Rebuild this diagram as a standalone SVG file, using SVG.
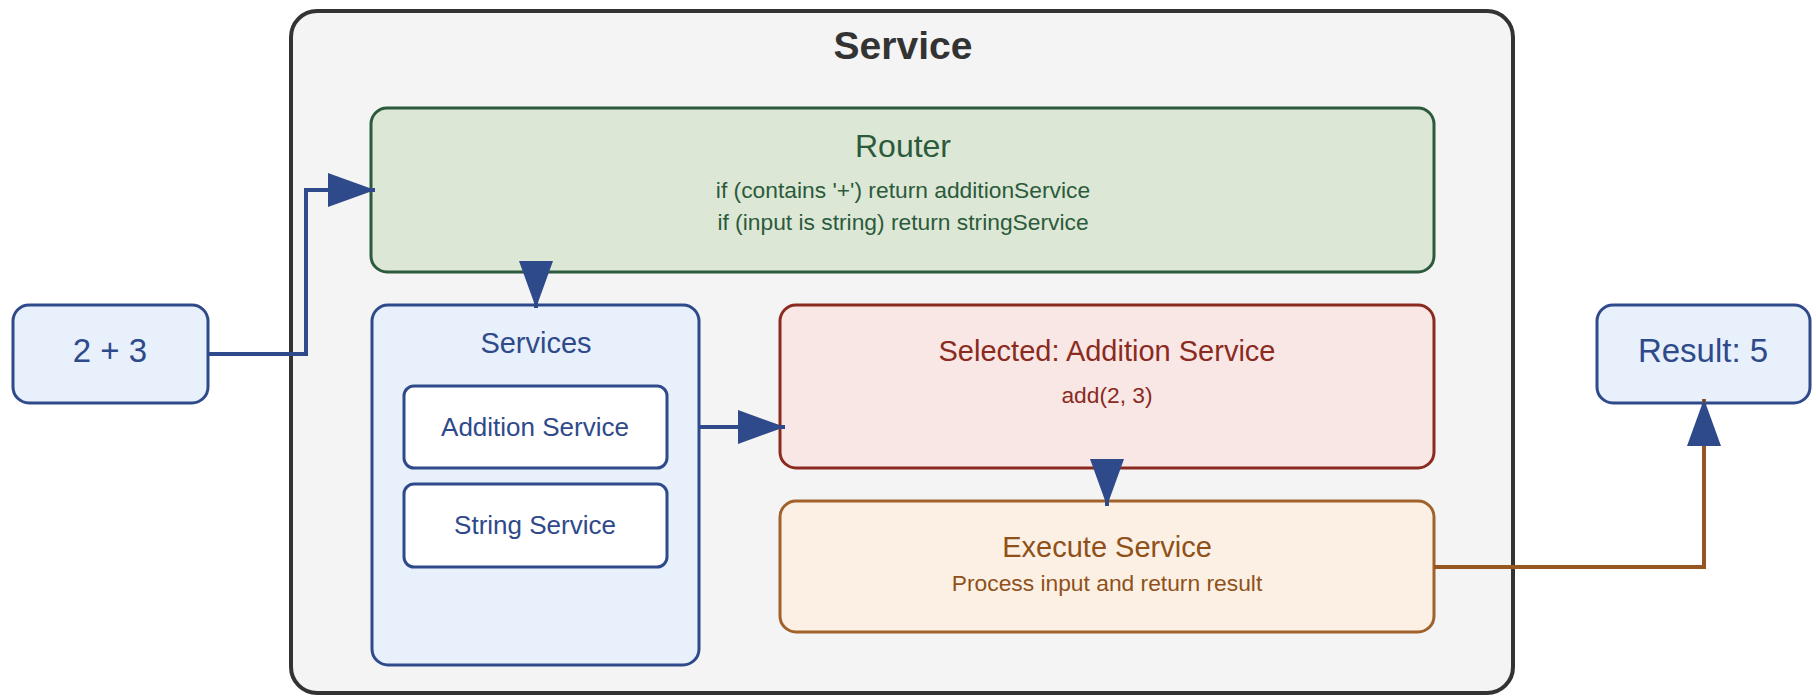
<svg xmlns="http://www.w3.org/2000/svg" width="1816" height="696" viewBox="0 0 1816 696">
  <style>
    text { font-family: "Liberation Sans", Arial, Helvetica, sans-serif; text-anchor: middle; }
    .blue-box { fill: #e7f0fb; stroke: #2f4a8a; stroke-width: 3; }
    .white-box { fill: #ffffff; stroke: #2f4a8a; stroke-width: 3; }
    .blue-text { fill: #2f4a8a; }
    .green-box { fill: #dce8d5; stroke: #2c5a3c; stroke-width: 3; }
    .green-text { fill: #2c5a3c; }
    .red-box { fill: #f9e7e5; stroke: #8b2a1e; stroke-width: 3; }
    .red-text { fill: #8b2a1e; }
    .orange-box { fill: #fcf0e5; stroke: #a0622a; stroke-width: 3; }
    .orange-text { fill: #8f5119; }
    .title { font-size: 29px; }
    .sub { font-size: 22.8px; }
    .io { font-size: 33px; }
    .conn { fill: none; stroke-width: 4; }
    .conn-blue { stroke: #2f4a8a; }
    .conn-brown { stroke: #95561f; }
  </style>
  <defs>
    <marker id="arrow" markerUnits="userSpaceOnUse" markerWidth="48" markerHeight="34" refX="47" refY="17" orient="auto">
      <path d="M0,0 L47,17 L0,34 Z" fill="#2f4a8a"/>
    </marker>
  </defs>

  <rect width="1816" height="696" fill="#ffffff"/>

  <!-- outer service container -->
  <g id="service">
    <rect x="291" y="11" width="1222" height="682" rx="26" fill="#f4f4f4" stroke="#333333" stroke-width="4"/>
    <text x="903" y="59" font-size="39" font-weight="bold" fill="#333333">Service</text>
  </g>

  <g id="router">
    <rect class="green-box" x="371" y="108" width="1063" height="164" rx="16"/>
    <text class="green-text" x="903" y="157" font-size="32">Router</text>
    <text class="green-text sub" x="903" y="198">if (contains '+') return additionService</text>
    <text class="green-text sub" x="903" y="230">if (input is string) return stringService</text>
  </g>

  <g id="services">
    <rect class="blue-box" x="372" y="305" width="327" height="360" rx="16"/>
    <text class="blue-text title" x="536" y="353">Services</text>
  </g>

  <g id="addition-service">
    <rect class="white-box" x="404" y="386" width="263" height="82" rx="10"/>
    <text class="blue-text" x="535" y="436" font-size="26">Addition Service</text>
  </g>

  <g id="string-service">
    <rect class="white-box" x="404" y="484" width="263" height="83" rx="10"/>
    <text class="blue-text" x="535" y="534" font-size="26">String Service</text>
  </g>

  <g id="selected">
    <rect class="red-box" x="780" y="305" width="654" height="163" rx="16"/>
    <text class="red-text title" x="1107" y="361">Selected: Addition Service</text>
    <text class="red-text sub" x="1107" y="403">add(2, 3)</text>
  </g>

  <g id="execute">
    <rect class="orange-box" x="780" y="501" width="654" height="131" rx="16"/>
    <text class="orange-text title" x="1107" y="557">Execute Service</text>
    <text class="orange-text sub" x="1107" y="591">Process input and return result</text>
  </g>

  <g id="input">
    <rect class="blue-box" x="13" y="305" width="195" height="98" rx="16"/>
    <text class="blue-text io" x="110" y="362">2 + 3</text>
  </g>

  <g id="result">
    <rect class="blue-box" x="1597" y="305" width="213" height="98" rx="16"/>
    <text class="blue-text io" x="1703" y="362">Result: 5</text>
  </g>

  <g id="connectors">
    <path class="conn conn-blue" d="M208,354 H306 V190 H375" marker-end="url(#arrow)"/>
    <path class="conn conn-blue" d="M536,272 V308" marker-end="url(#arrow)"/>
    <path class="conn conn-blue" d="M699,427 H785" marker-end="url(#arrow)"/>
    <path class="conn conn-blue" d="M1107,468 V506" marker-end="url(#arrow)"/>
    <path class="conn conn-brown" d="M1434,567 H1704 V399" marker-end="url(#arrow)"/>
  </g>
</svg>
